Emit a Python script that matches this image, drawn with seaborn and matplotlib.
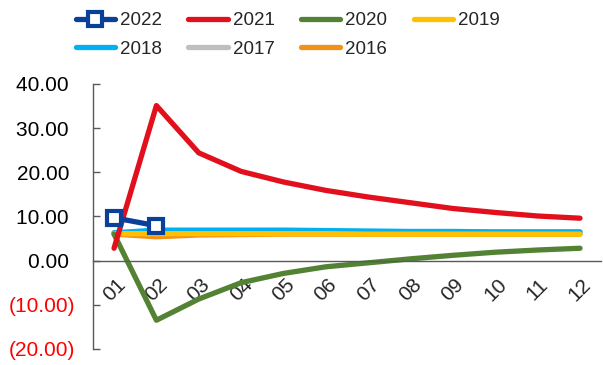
import matplotlib
matplotlib.use("Agg")
import matplotlib.pyplot as plt
import seaborn as sns
import pandas as pd
import numpy as np

months = ["01", "02", "03", "04", "05", "06", "07", "08", "09", "10", "11", "12"]
s2022 = [9.7, 7.9]
s2021 = [2.8, 35.1, 24.4, 20.2, 17.8, 15.9, 14.4, 13.1, 11.8, 10.9, 10.1, 9.6]
s2020 = [6.0, -13.5, -8.7, -5.0, -2.9, -1.4, -0.5, 0.4, 1.2, 1.9, 2.4, 2.8]
s2019 = [6.1, 6.1, 6.1, 6.1, 6.1, 6.1, 6.0, 6.0, 6.0, 6.0, 6.0, 6.0]
s2018 = [6.3, 6.9, 6.9, 6.9, 6.9, 6.8, 6.7, 6.6, 6.6, 6.5, 6.5, 6.5]
s2017 = [6.3, 6.4, 6.5, 6.5, 6.5, 6.5, 6.5, 6.5, 6.5, 6.5, 6.5, 6.5]
s2016 = [6.0, 5.4, 5.8, 5.9, 6.0, 6.0, 6.0, 6.0, 6.0, 6.0, 6.0, 6.0]
yticks = [-20, -10, 0, 10, 20, 30, 40]

series = {
    "2022": s2022, "2021": s2021, "2020": s2020, "2019": s2019,
    "2018": s2018, "2017": s2017, "2016": s2016,
}
colors = {
    "2022": "#0a3f9a", "2021": "#e1101c", "2020": "#548235", "2019": "#ffc000",
    "2018": "#00b0f0", "2017": "#bfbfbf", "2016": "#f39017",
}

sns.set_style("white")
plt.rcParams["font.family"] = ["Liberation Sans", "DejaVu Sans"]

fig = plt.figure(figsize=(6.03, 3.65), dpi=100)
ax = fig.add_axes([0.154, 0.044, 0.843, 0.726])

draw_order = ["2016", "2017", "2018", "2019", "2020", "2021", "2022"]
for name in draw_order:
    vals = series[name]
    df = pd.DataFrame({"x": np.arange(len(vals)), "y": vals})
    kw = dict(color=colors[name], linewidth=3.8, solid_capstyle="round",
              solid_joinstyle="round")
    if name == "2022":
        kw.update(marker="s", markersize=10, markerfacecolor="white",
                  markeredgecolor=colors[name], markeredgewidth=3)
    sns.lineplot(data=df, x="x", y="y", ax=ax, label=name, **kw)

ax.set_xlim(-0.5, 11.5)
ax.set_ylim(-20, 40)
ax.set_xlabel("")
ax.set_ylabel("")

for s in ["top", "right"]:
    ax.spines[s].set_visible(False)
ax.spines["bottom"].set_position(("data", 0))
ax.spines["bottom"].set_color("#595959")
ax.spines["left"].set_color("#595959")
ax.spines["bottom"].set_linewidth(1)
ax.spines["left"].set_linewidth(1)

ax.set_yticks(yticks)
ylabels = [f"({abs(v):.2f})" if v < 0 else f"{v:.2f} " for v in yticks]
ax.set_yticklabels(ylabels)
ax.set_xticks(np.arange(len(months)) - 0.5, minor=True)
ax.set_xticks(np.arange(len(months)))
ax.set_xticklabels(months)

ax.tick_params(axis="x", which="major", length=0, pad=21, labelsize=15,
               labelrotation=45)
ax.tick_params(axis="x", which="minor", length=5, direction="in", color="#595959", width=1)
ax.tick_params(axis="y", length=5, direction="in", color="#595959", width=1,
               left=True, pad=13, labelsize=15)
for lab in ax.get_xticklabels():
    lab.set_ha("center")
    lab.set_va("center")
    lab.set_rotation_mode("anchor")
for lab, v in zip(ax.get_yticklabels(), yticks):
    lab.set_color("#ff0000" if v < 0 else "black")

h, l = ax.get_legend_handles_labels()
hm = dict(zip(l, h))
order = ["2022", "2018", "2021", "2017", "2020", "2016", "2019"]
if ax.get_legend():
    ax.get_legend().remove()
fig.legend([hm[k] for k in order], order, loc="upper left",
           bbox_to_anchor=(0.113, 0.987), borderaxespad=0, ncol=4, frameon=False,
           fontsize=13.5, handlelength=2.1, handletextpad=0.27,
           columnspacing=1.4, labelspacing=0.6)

fig.savefig("out.png", dpi=100)
